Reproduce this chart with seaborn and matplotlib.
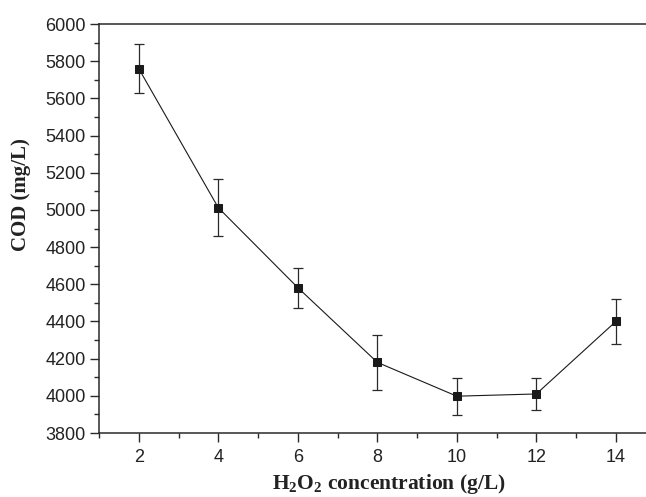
import matplotlib
matplotlib.use("Agg")
import matplotlib.pyplot as plt
from matplotlib.ticker import MultipleLocator
import numpy as np
import pandas as pd
import seaborn as sns

# H2O2 dose (g/L) and resulting COD (mg/L) with standard deviations
h2o2 = [2, 4, 6, 8, 10, 12, 14]
cod = [5760, 5012, 4582, 4180, 3998, 4010, 4400]
cod_err = [130, 152, 108, 148, 100, 88, 120]

sns.set_theme(style="white")
plt.rcParams["mathtext.default"] = "regular"

df = pd.DataFrame({"h2o2": h2o2, "cod": cod, "err": cod_err})

fig = plt.figure(figsize=(6.46, 4.97), dpi=100)
# axes run past the right edge of the figure, so the right frame is cut off
ax = fig.add_axes([99 / 646, 1 - 433 / 497, 556.6 / 646, 409 / 497])

sns.lineplot(data=df, x="h2o2", y="cod", ax=ax, color="#1a1a1a", linewidth=0.8,
             marker="s", markersize=6.4, markeredgecolor="#1a1a1a",
             markerfacecolor="#1a1a1a", errorbar=None, zorder=3)
ax.errorbar(df["h2o2"], df["cod"], yerr=df["err"], fmt="none",
            ecolor="#2a2a2a", elinewidth=0.9, capsize=3.5, capthick=0.9, zorder=2)

ax.set_xlim(1, 15)
ax.set_ylim(3800, 6000)
ax.xaxis.set_major_locator(MultipleLocator(2))
ax.xaxis.set_minor_locator(MultipleLocator(1))
ax.yaxis.set_major_locator(MultipleLocator(200))
ax.yaxis.set_minor_locator(MultipleLocator(100))

for side in ["left", "bottom", "top", "right"]:
    ax.spines[side].set_color("#2a2a2a")
    ax.spines[side].set_linewidth(1.1)

ax.tick_params(which="major", direction="out", length=6.5, width=1.0,
               color="#2a2a2a", bottom=True, left=True, top=False, right=False,
               labelsize=13, labelcolor="#222222", pad=3)
ax.tick_params(axis="x", which="major", pad=5)
ax.tick_params(which="minor", direction="out", length=3.3, width=1.0,
               color="#2a2a2a", bottom=True, left=True, top=False, right=False)
for lab in ax.get_xticklabels() + ax.get_yticklabels():
    lab.set_family("Liberation Sans")

ax.set_xlabel("H$_2$O$_2$ concentration (g/L)", family="Liberation Serif",
              fontweight="bold", fontsize=15.5, color="#222222", va="center")
ax.set_ylabel("COD (mg/L)", family="Liberation Serif",
              fontweight="bold", fontsize=15, color="#222222", va="center")
ax.xaxis.set_label_coords((389 - 99) / 556.6, (433 - 484) / 409)
ax.yaxis.set_label_coords((21 - 99) / 556.6, (433 - 195) / 409)

fig.savefig("out.png", dpi=100)
